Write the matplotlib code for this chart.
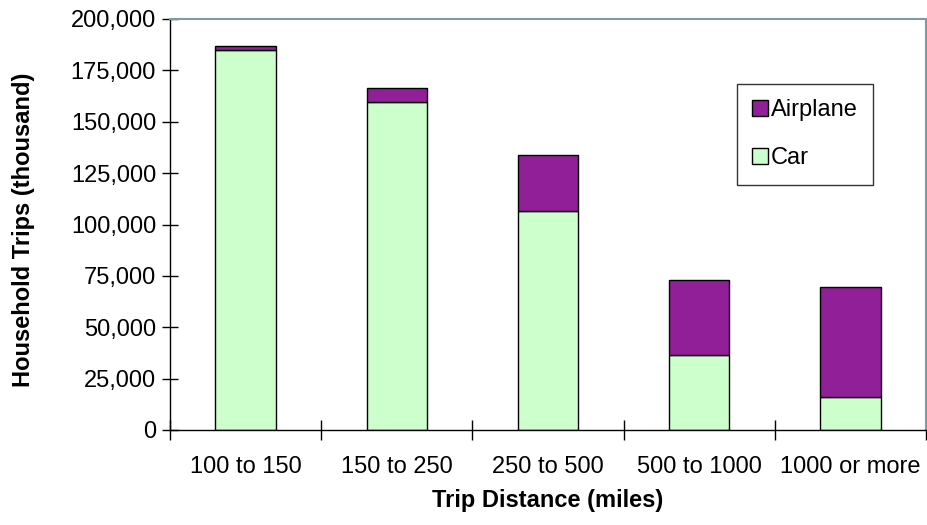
import matplotlib
matplotlib.use("Agg")
import matplotlib.pyplot as plt
from matplotlib.ticker import FuncFormatter, MultipleLocator
import numpy as np

plt.rcParams['font.family'] = ['Liberation Sans', 'DejaVu Sans']

categories = ["100 to 150", "150 to 250", "250 to 500", "500 to 1000", "1000 or more"]
car = [185000, 159500, 106700, 36500, 16200]
airplane = [1800, 7000, 27000, 36500, 53500]

car_color = "#CCFFCC"
air_color = "#911F97"

W, H = 927, 525
fig = plt.figure(figsize=(W / 100, H / 100), dpi=100)
ax = fig.add_axes([170 / W, 1 - 430 / H, 756 / W, 411 / H])

x = np.arange(len(categories))
ax.bar(x, car, width=0.4, color=car_color, edgecolor="black", linewidth=1.0, label="Car")
ax.bar(x, airplane, width=0.4, bottom=car, color=air_color, edgecolor="black",
       linewidth=1.0, label="Airplane")

ax.set_xlim(-0.5, len(categories) - 0.5)
ax.set_ylim(0, 200000)
ax.yaxis.set_major_locator(MultipleLocator(25000))
ax.yaxis.set_major_formatter(FuncFormatter(lambda v, p: f"{int(v):,}"))

ax.set_xticks(x)
ax.set_xticklabels(categories)
ax.tick_params(axis="x", which="major", length=0, pad=19, labelsize=17)
ax.set_xticks(np.arange(len(categories) + 1) - 0.5, minor=True)
ax.tick_params(axis="x", which="minor", direction="inout", length=14, width=1, color="black")
ax.tick_params(axis="y", direction="inout", length=12, width=1, labelsize=17, pad=4)

for side in ("left", "bottom"):
    ax.spines[side].set_color("black")
    ax.spines[side].set_linewidth(1.0)
for side in ("top", "right"):
    ax.spines[side].set_color("#7F9AA0")
    ax.spines[side].set_linewidth(1.5)

ax.set_xlabel("Trip Distance (miles)", fontsize=17, fontweight="bold")
ax.xaxis.set_label_coords((548 - 170) / 756, -(501 - 430) / 411)
ax.xaxis.label.set_verticalalignment("center")
ax.set_ylabel("Household Trips (thousand)", fontsize=17, fontweight="bold")
ax.yaxis.set_label_coords(-(170 - 24) / 756, (430 - 230) / 411)
ax.yaxis.label.set_verticalalignment("center")

handles, labels = ax.get_legend_handles_labels()
leg = ax.legend(handles[::-1], labels[::-1], loc="upper left",
                bbox_to_anchor=((737 - 170) / 756, (430 - 84) / 411),
                fontsize=17, frameon=True, fancybox=False, edgecolor="black",
                handlelength=0.65, handleheight=0.65, handletextpad=0.15,
                labelspacing=1.1, borderpad=0.65, borderaxespad=0)
leg.get_frame().set_linewidth(1.0)

fig.savefig("out.png", dpi=100, facecolor="white")
